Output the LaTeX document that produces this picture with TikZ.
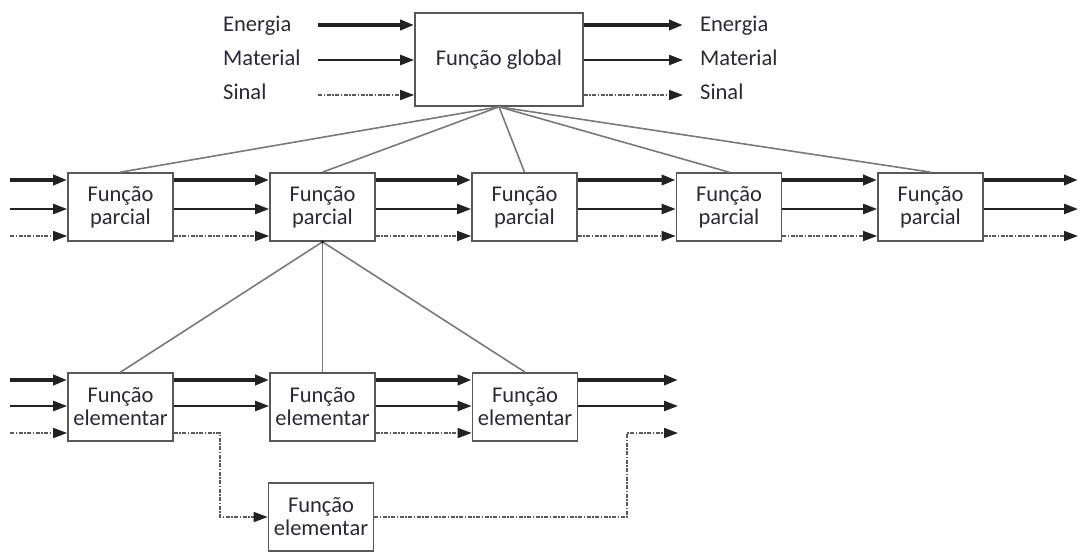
\documentclass[tikz,border=0pt]{standalone}
\usepackage{fontspec}
\setmainfont{Carlito}
\usetikzlibrary{arrows.meta}
\definecolor{flow}{HTML}{222222}
\definecolor{sig}{HTML}{5A5A5A}
\definecolor{boxline}{HTML}{585858}
\definecolor{linkc}{HTML}{7A7A7A}
\definecolor{txt}{HTML}{2A2A36}
\begin{document}
\begin{tikzpicture}[x=1pt,y=-1pt,
  fbox/.style={draw=boxline,line width=1.7pt,fill=white,rectangle,inner sep=0pt,
    minimum width=105pt,minimum height=68pt,align=center,text=txt,
    font=\fontsize{22.5}{23}\selectfont},
  gbox/.style={fbox,minimum width=168pt,minimum height=93pt},
  lbl/.style={inner sep=0pt,text=txt,font=\fontsize{22.5}{23}\selectfont},
  tip/.style={-{Triangle[length=14pt,width=10pt,color=flow]}},
  thickflow/.style={draw=flow,line width=4pt,tip},
  medflow/.style={draw=flow,line width=2.3pt,tip},
  sigflow/.style={draw=sig,line width=1.6pt,tip,dash pattern=on 4pt off 1.5pt on 1.5pt off 1.5pt},
  link/.style={draw=linkc,line width=1.6pt}]
\useasboundingbox (0,0) rectangle (1080,552);
\fill[white] (0,0) rectangle (1080,552);

% global function
\node[gbox] (G) at (499,59.5) {Função global};
\node[lbl,anchor=base west] (inE) at (223,31) {Energia};
\node[lbl,anchor=base west] (inM) at (223,65) {Material};
\node[lbl,anchor=base west] (inS) at (223,99) {Sinal};
\node[lbl,anchor=base west] (outE) at (700,31) {Energia};
\node[lbl,anchor=base west] (outM) at (700,65) {Material};
\node[lbl,anchor=base west] (outS) at (700,99) {Sinal};
\coordinate (gi1) at (318,25); \coordinate (gi2) at (318,60); \coordinate (gi3) at (318,95);
\coordinate (go1) at (683,25); \coordinate (go2) at (683,60); \coordinate (go3) at (683,95);
\draw[thickflow] (gi1) -- (G.west |- gi1);
\draw[medflow] (gi2) -- (G.west |- gi2);
\draw[sigflow] (gi3) -- (G.west |- gi3);
\draw[thickflow] (G.east |- go1) -- (go1);
\draw[medflow] (G.east |- go2) -- (go2);
\draw[sigflow] (G.east |- go3) -- (go3);

% partial functions
\node[fbox] (P1) at (120.5,207) {Função\\parcial};
\node[fbox] (P2) at (322.5,207) {Função\\parcial};
\node[fbox] (P3) at (524.5,207) {Função\\parcial};
\node[fbox] (P4) at (729,207) {Função\\parcial};
\node[fbox] (P5) at (930.5,207) {Função\\parcial};
\foreach \p in {P1,P2,P3,P4,P5} \draw[link] (G.south) -- (\p.north);

\coordinate (pi1) at (10,180); \coordinate (pi2) at (10,209); \coordinate (pi3) at (10,236);
\coordinate (po1) at (1078,180); \coordinate (po2) at (1078,209); \coordinate (po3) at (1078,236);
\draw[thickflow] (pi1) -- (P1.west |- pi1);
\draw[medflow] (pi2) -- (P1.west |- pi2);
\draw[sigflow] (pi3) -- (P1.west |- pi3);
\foreach \a/\b in {P1/P2,P2/P3,P3/P4,P4/P5}{
  \draw[thickflow] (\a.east |- pi1) -- (\b.west |- pi1);
  \draw[medflow] (\a.east |- pi2) -- (\b.west |- pi2);
  \draw[sigflow] (\a.east |- pi3) -- (\b.west |- pi3);
}
\draw[thickflow] (P5.east |- po1) -- (po1);
\draw[medflow] (P5.east |- po2) -- (po2);
\draw[sigflow] (P5.east |- po3) -- (po3);

% elementary functions
\node[fbox] (E1) at (120.5,407) {Função\\elementar};
\node[fbox] (E2) at (322.5,407) {Função\\elementar};
\node[fbox] (E3) at (525,407) {Função\\elementar};
\node[fbox] (E4) at (321,517) {Função\\elementar};
\foreach \e in {E1,E2,E3} \draw[link] (P2.south) -- (\e.north);
\fill[flow] (P2.south) circle (1.8pt);

\coordinate (ei1) at (10,380); \coordinate (ei2) at (10,406); \coordinate (ei3) at (10,433);
\coordinate (eo1) at (678,380); \coordinate (eo2) at (678,406); \coordinate (eo3) at (678,433);
\draw[thickflow] (ei1) -- (E1.west |- ei1);
\draw[medflow] (ei2) -- (E1.west |- ei2);
\draw[sigflow] (ei3) -- (E1.west |- ei3);
\foreach \a/\b in {E1/E2,E2/E3}{
  \draw[thickflow] (\a.east |- ei1) -- (\b.west |- ei1);
  \draw[medflow] (\a.east |- ei2) -- (\b.west |- ei2);
}
\draw[sigflow] (E2.east |- ei3) -- (E3.west |- ei3);
\draw[thickflow] (E3.east |- eo1) -- (eo1);
\draw[medflow] (E3.east |- eo2) -- (eo2);

\coordinate (c1) at (220,433); \coordinate (c2) at (220,517);
\coordinate (c3) at (627,517); \coordinate (c4) at (627,433);
\draw[sigflow] (E1.east |- c1) -- (c1) -- (c2) -- (E4.west);
\draw[sigflow] (E4.east) -- (c3) -- (c4) -- (eo3);
\end{tikzpicture}
\end{document}
